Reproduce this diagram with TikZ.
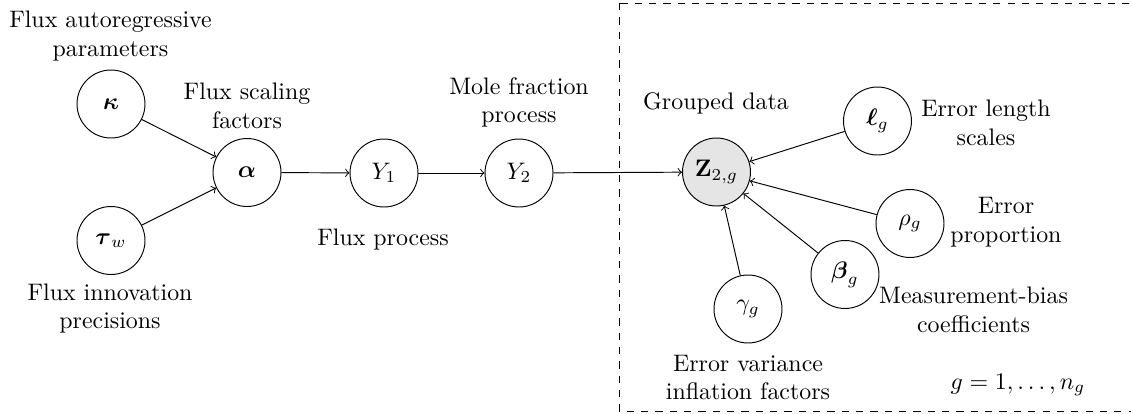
\documentclass[tikz,border=0pt]{standalone}
\usepackage{amsmath,amssymb}
\usetikzlibrary{arrows}
\begin{document}
\begin{tikzpicture}[x=0.014706cm,y=-0.014706cm,
  var/.style={circle,draw,minimum size=1cm,inner sep=0pt},
  obs/.style={var,fill=gray!20},
  lbl/.style={align=center,inner sep=0pt},
  edge/.style={->}]
\useasboundingbox (0,0) rectangle (1131,414);

% group plate
\draw[dashed] (619,3) rectangle (1140,411);

% variables
\node[var] (kappa) at (111,104) {$\boldsymbol{\kappa}$};
\node[var] (tau)   at (111,240.5) {$\boldsymbol{\tau}_w$};
\node[var] (alpha) at (247,172.5) {$\boldsymbol{\alpha}$};
\node[var] (y1)    at (384,173) {$Y_1$};
\node[var] (y2)    at (519,173) {$Y_2$};
\node[obs] (z)     at (716.5,172) {$\mathbf{Z}_{2,g}$};
\node[var] (ell)   at (877.5,121) {$\boldsymbol{\ell}_g$};
\node[var] (rho)   at (910,223.5) {$\rho_g$};
\node[var] (beta)  at (845,274.5) {$\boldsymbol{\beta}_g$};
\node[var] (gam)   at (748,309) {$\gamma_g$};

% descriptions
\node[lbl] (lkappa) at (110.5,36) {Flux autoregressive\\parameters};
\node[lbl] (ltau)   at (110,308.5) {Flux innovation\\precisions};
\node[lbl] (lalpha) at (247,106) {Flux scaling\\factors};
\node[lbl] (ly1)    at (383,240) {Flux process};
\node[lbl] (ly2)    at (519,102.5) {Mole fraction\\process};
\node[lbl] (lz)     at (716,103) {Grouped data};
\node[lbl] (lell)   at (986,122.5) {Error length\\scales};
\node[lbl] (lrho)   at (1006,222.5) {Error\\proportion};
\node[lbl] (lbeta)  at (973.5,310) {Measurement-bias\\coefficients};
\node[lbl] (lgam)   at (748,377.5) {Error variance\\inflation factors};
\node[lbl] (range)  at (1018,385) {$g=1,\ldots,n_g$};

% dependencies
\draw[edge] (kappa) -- (alpha);
\draw[edge] (tau) -- (alpha);
\draw[edge] (alpha) -- (y1);
\draw[edge] (y1) -- (y2);
\draw[edge] (y2) -- (z);
\draw[edge] (ell) -- (z);
\draw[edge] (rho) -- (z);
\draw[edge] (beta) -- (z);
\draw[edge] (gam) -- (z);
\end{tikzpicture}
\end{document}
